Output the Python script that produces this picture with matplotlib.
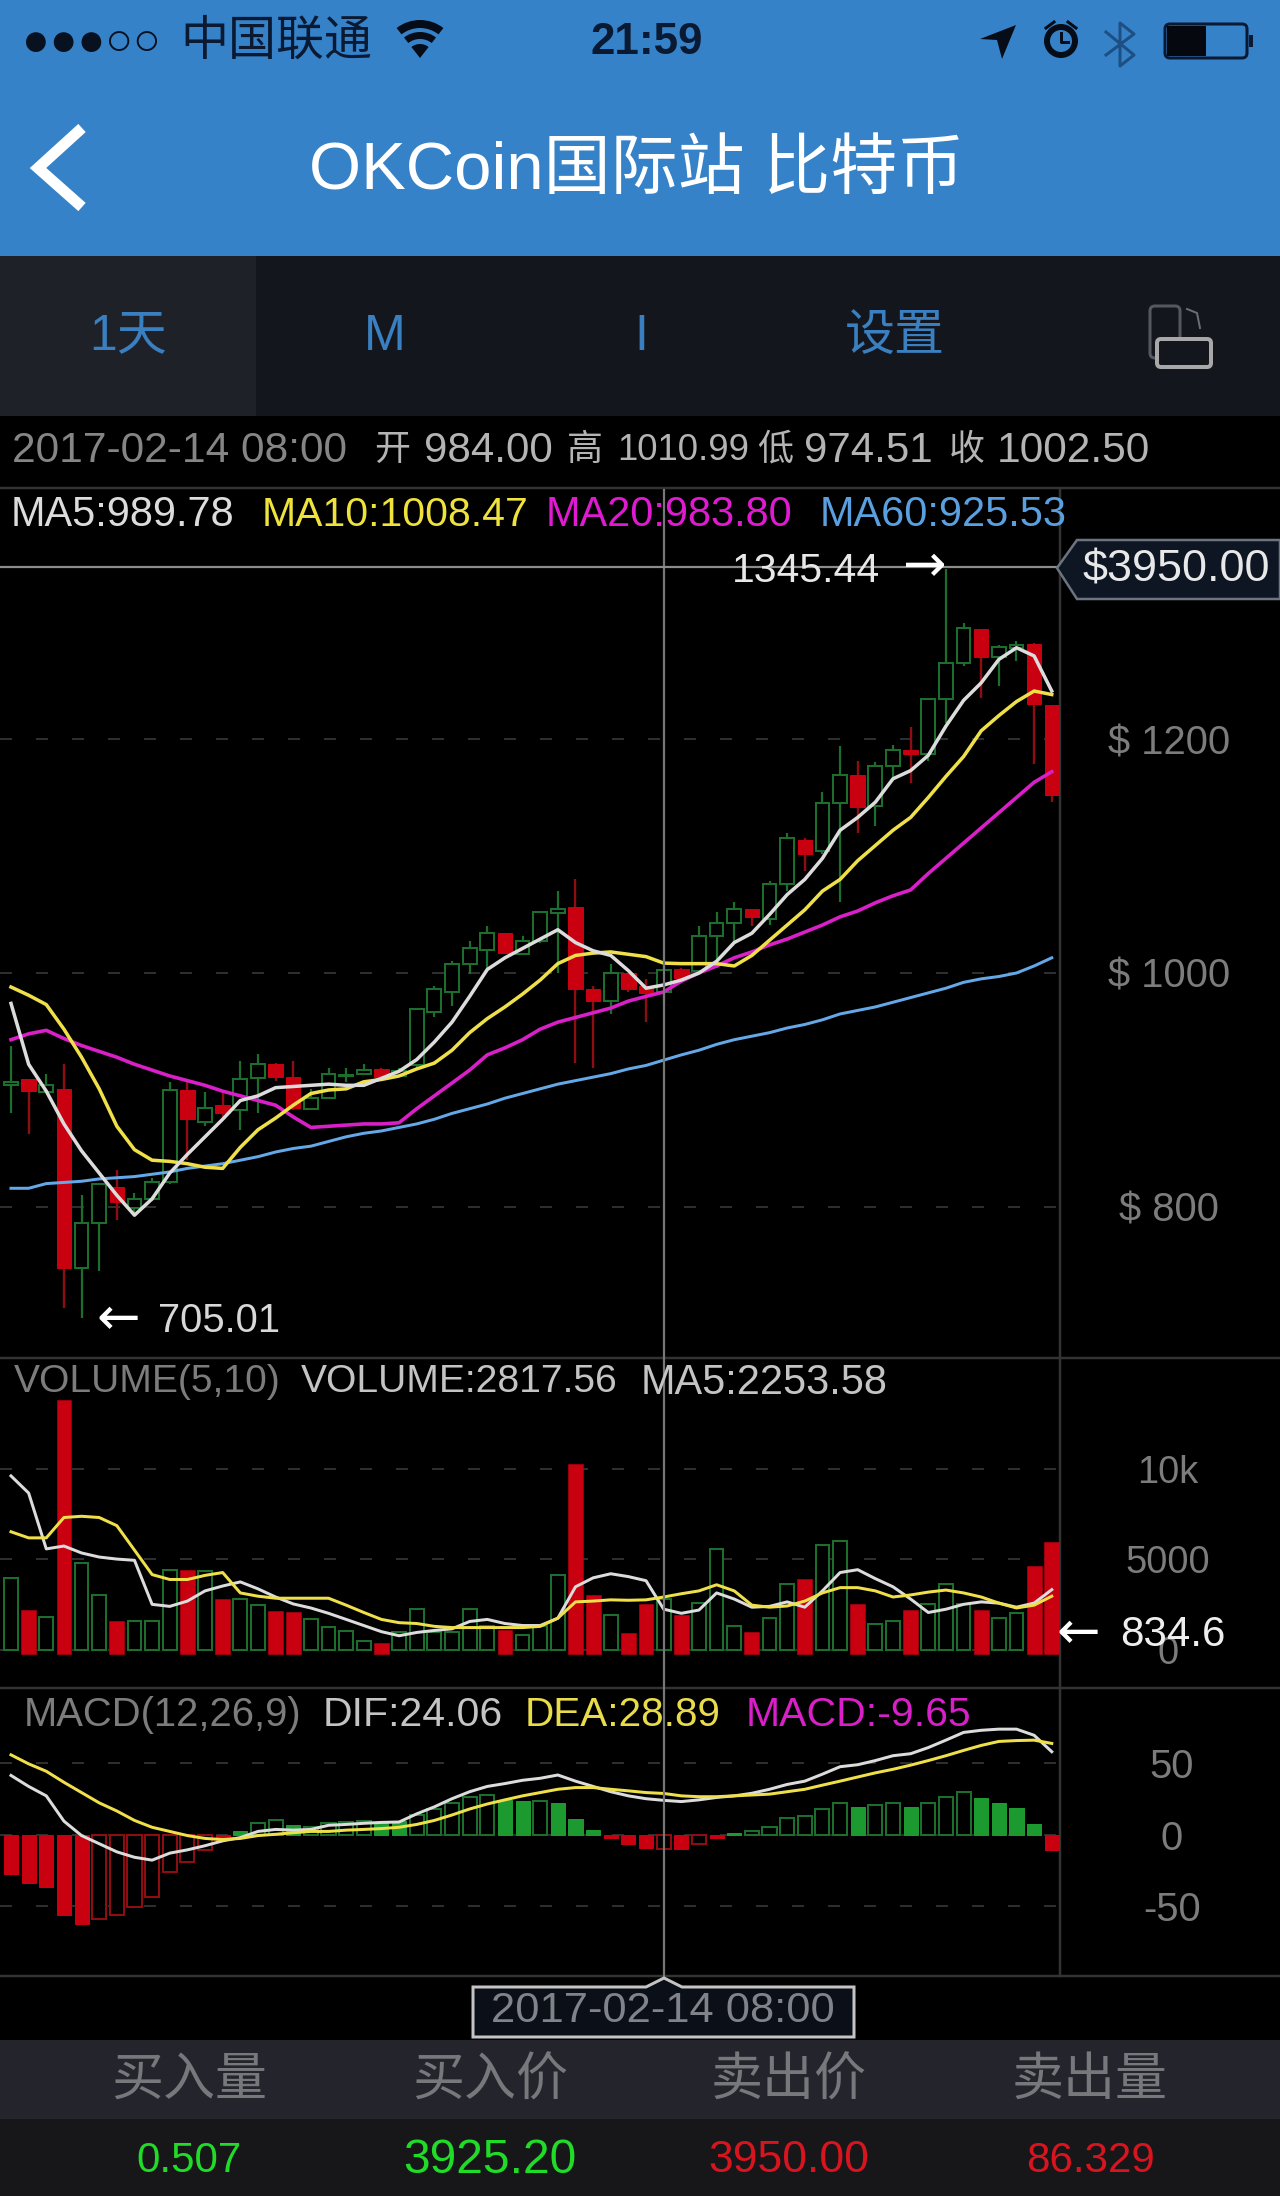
import matplotlib
matplotlib.use("Agg")
import matplotlib.pyplot as plt
from matplotlib.patches import Rectangle, Polygon, Wedge, Circle, FancyBboxPatch
import numpy as np

plt.rcParams['font.family'] = ['Liberation Sans', 'Noto Sans CJK SC', 'DejaVu Sans']

W, H = 1280, 2196

# ---------- data ----------
open_ = [904,909,898,901,748,786,817,799,807,821,900,873,887,883,910,922,911,884,893,912,914,918,912,921,967,984,1008,1020,1034,1016,1027,1051,1056,986,976,1000,989,984,1003,1002,1032,1043,1055,1046,1076,1114,1104,1145,1169,1143,1177,1191,1187,1234,1265,1294,1270,1278,1281,1229]
high  = [938,909,914,922,810,820,832,812,825,907,908,898,899,925,931,923,925,901,919,919,922,919,919,969,989,1010,1027,1040,1034,1032,1053,1070,1080,989,1008,1000,995,1011,1004,1040,1052,1061,1055,1079,1120,1115,1155,1194,1181,1180,1195,1210,1234,1345.44,1299,1294,1280,1284,1282,1229]
low   = [880,862,898,714,705.01,745,789,794,805,820,840,869,877,866,880,908,883,884,893,907,913,910,911,919,962,972,999,1004,1016,1015,1026,1000,923,919,965,984,958,974.51,995,1000,1004,1026,1040,1041,1070,1087,1102,1061,1120,1126,1166,1162,1181,1214,1262,1235,1245,1267,1179,1146]
close = [907,899,904,748,786,820,804,807,821,900,875,885,880,909,922,911,885,893,914,913,917,911,916,969,986,1008,1021,1034,1017,1027,1052,1055,986,976,1000,986,983,1002.5,996,1032,1043,1055,1048,1076,1115,1102,1145,1169,1142,1177,1191,1187,1234,1265,1295,1270,1279,1280,1230,1152]

ma5 = [974,922,899,871,848,829,810,793,807,829,845,860,875,891,895,902,903,904,905,904,904,910,916,926,941,958,980,1003,1013,1021,1029,1037,1026,1019,1015,1002,987,989.78,994,1000,1010,1026,1034,1050,1067,1080,1098,1122,1133,1146,1166,1173,1186,1211,1233,1248,1268,1278,1271,1241]
ma10 = [988,981,973,952,928,901,869,849,840,839,837,834,833,851,866,876,887,897,900,901,907,909,912,918,923,934,949,961,971,982,994,1008,1015,1017,1018,1016,1014,1008.47,1008,1008,1008,1006,1015,1028,1041,1054,1070,1080,1096,1109,1122,1133,1150,1168,1185,1207,1220,1232,1241,1238]
ma20 = [943,948,951,944,938,933,928,922,917,912,908,904,899,895,891,887,877,868,869,870,871,871,872,884,895,906,917,930,936,943,952,958,962,966,970,976,980,983.80,993,1000,1006,1013,1018,1024,1029,1035,1041,1048,1053,1060,1066,1071,1085,1098,1111,1124,1137,1150,1163,1172]
ma60 = [816,816,820,821,822,824,825,826,828,830,833,835,837,840,843,847,850,852,856,860,863,865,868,871,875,880,884,888,893,897,901,905,908,911,914,918,921,925.53,930,934,939,943,946,949,953,956,960,965,968,971,975,979,983,987,992,995,997,1000,1006,1013]

volume = [3982,2205,1800,13792,4792,3037,1620,1575,1620,4388,4388,4342,2812,2812,2475,2138,2092,1688,1282,1058,495,405,1012,2250,1012,1012,2250,1350,1125,855,1350,4162,10238,3038,1958,945,2520,2817.56,1912,2588,5558,1350,968,1755,3668,3892,5805,6030,2520,1462,1620,2182,2542,3668,2520,2182,1755,2025,4658,5962]
vol_ma5 = [9608,8662,5580,5738,5355,5130,5018,4950,2520,2408,2700,3262,3532,3758,3375,2925,2542,2318,2025,1688,1350,1012,788,968,1080,1170,1575,1688,1462,1350,1350,1755,3488,3982,4208,4050,3825,2253.58,2025,2205,3150,2812,2362,2408,2655,2362,3262,4275,4432,3938,3488,2812,2070,2250,2520,2655,2588,2362,2588,3330]
vol_ma10 = [6525,6188,6188,7312,7380,7312,6862,5512,4162,3892,3892,4118,4275,3150,2970,2858,2858,2858,2858,2475,2070,1688,1508,1462,1305,1238,1238,1238,1238,1238,1305,1755,2655,2700,2768,2745,2768,2925,3105,3262,3600,3262,2475,2362,2430,2700,3150,3442,3442,3262,2925,3038,3195,3308,3150,2925,2588,2318,2475,2970]

macd = [-27.2,-33.5,-36.4,-56.4,-62.2,-59.3,-56.4,-50.7,-43.6,-26.4,-19.1,-10.6,-3.4,2.3,8,10,6.6,5.2,8,8.9,9.5,8,9.5,13.8,18,22.3,26.6,28.1,24.4,23.8,23.8,22.3,10.9,3.2,-2,-6.3,-9.2,-9.65,-9.7,-6.3,-2,1.4,2.3,5.7,11.8,12.9,18,22.3,19.4,20.9,22.3,19.4,22.3,26.6,30,26,22.3,18.6,7.4,-10.6]
dif = [41.5,33.8,27.2,9.5,-0.6,-6.3,-12,-15.8,-17.8,-12.9,-10.6,-7.7,-4.3,-2,2.3,3.7,3.2,3.7,6.6,7.2,8,8.6,8.9,14.6,19.5,25.2,30.1,33.8,35.8,38.1,39.5,41.8,37.5,33.8,30.1,27.2,25.2,24.06,23.2,24.4,26.1,27.2,29,31.8,35.2,37.5,42.4,47.6,49,51.9,55.3,56.7,61,66.2,71.6,73.1,73.9,73.9,69.6,58.1]
dea = [55.9,49.6,44.4,36.7,29.5,22.3,16.6,10,5.2,2.3,-0.6,-2.6,-3.4,-2.6,-0.6,0.3,1.4,2.3,2.3,3.2,3.7,4.3,5.2,7.2,10,13.8,18,21.5,24.4,27.2,29.5,31.8,33,33,31.8,30.7,29.5,28.89,27.2,26.6,26.6,27.2,27.8,28.4,30.1,31.8,34.7,37.5,40.4,43.3,45.8,48.7,51.9,55.3,59,62.5,65.3,65.9,66.2,63.9]
macd_solid = [0,1,2,3,4,12,13,16,21,22,28,29,31,32,33,34,35,36,38,40,41,48,51,55,56,57,58,59]

price_ticks = [800, 1000, 1200]
price_tick_labels = ['$ 800', '$ 1000', '$ 1200']
vol_ticks = [0, 5000, 10000]
vol_tick_labels = ['0', '5000', '10k']
macd_ticks = [-50, 0, 50]
macd_tick_labels = ['-50', '0', '50']

# ---------- style ----------
GREEN_LINE = '#1b6e2c'
GREEN_FILL = '#1c9a30'
RED = '#c8000f'
RED_DIM = '#8e0d12'
GRID = '#2e2e2e'
FRAME = '#333333'
C_WHITE = '#dcdcdc'
C_YEL = '#efe04a'
C_MAG = '#d81fc8'
C_BLUE = '#64a8e8'
GREY_TXT = '#7c7c7c'
LT_TXT = '#c4c4c4'

def px(v):
    return v * 0.72   # pixels to points at dpi=100

fig = plt.figure(figsize=(W/100, H/100), dpi=100, facecolor='black')

def panel(top, bottom, ylim, z=2):
    ax = fig.add_axes([0, 1-bottom/H, 1080/W, (bottom-top)/H], zorder=z)
    ax.patch.set_alpha(0)
    ax.set_xlim(-11/17.64, (1080-11)/17.64)
    ax.set_ylim(*ylim)
    for s in ax.spines.values():
        s.set_visible(False)
    ax.set_xticks([])
    ax.set_axisbelow(True)
    ax.grid(axis='y', color=GRID, lw=px(2), linestyle=(0, (6, 12)))
    return ax

def set_ticks(ax, ticks, labels, center_x, size, color=GREY_TXT):
    ax.set_yticks(ticks)
    ax.set_yticklabels(labels)
    ax.yaxis.tick_right()
    ax.tick_params(axis='y', length=0, pad=px(center_x-1080), labelsize=px(size), labelcolor=color)
    for t in ax.yaxis.get_major_ticks():
        t.label2.set_ha('center')

x = np.arange(len(close))

# background layer
bg = fig.add_axes([0, 0, 1, 1], zorder=0)
bg.set_xlim(0, W); bg.set_ylim(H, 0); bg.axis('off')
bg.set_facecolor('black')
bg.add_patch(Rectangle((0, 0), W, 256, fc='#3682c8', ec='none'))
bg.add_patch(Rectangle((0, 256), W, 160, fc='#14161e', ec='none'))
bg.add_patch(Rectangle((0, 256), 256, 160, fc='#1f2129', ec='none'))
bg.add_patch(Rectangle((0, 2040), W, 79, fc='#24252c', ec='none'))
bg.add_patch(Rectangle((0, 2119), W, 77, fc='#17171a', ec='none'))
for yy in (488, 1358, 1688, 1976):
    bg.plot([0, W], [yy, yy], color=FRAME, lw=px(2.5))
bg.plot([1060, 1060], [490, 1976], color=FRAME, lw=px(2.5))

# price panel
axp = panel(490, 1358, (1000-385/1.17, 1000+483/1.17))
set_ticks(axp, price_ticks, price_tick_labels, 1169, 40)
o, h, l, c = map(np.array, (open_, high, low, close))
up = c >= o
axp.vlines(x[up], l[up], h[up], color=GREEN_LINE, lw=px(2.2), zorder=2)
axp.vlines(x[~up], l[~up], h[~up], color=RED_DIM, lw=px(2.4), zorder=2)
axp.bar(x[up], (c-o)[up], bottom=o[up], width=0.78, fc='black', ec=GREEN_LINE, lw=px(2), zorder=3)
axp.bar(x[~up], (o-c)[~up], bottom=c[~up], width=0.82, fc=RED, ec=RED, lw=px(1), zorder=3)
axp.plot(x, ma60, color=C_BLUE, lw=px(3), zorder=4)
axp.plot(x, ma20, color=C_MAG, lw=px(3.6), zorder=5)
axp.plot(x, ma10, color=C_YEL, lw=px(3.5), zorder=6)
axp.plot(x, ma5, color=C_WHITE, lw=px(3.5), zorder=7)

# volume panel
axv = panel(1358, 1688, (-2097, 16115))
set_ticks(axv, vol_ticks, vol_tick_labels, 1168, 38)
v = np.array(volume)
axv.bar(x[up], v[up], width=0.78, fc='black', ec=GREEN_LINE, lw=px(2), zorder=3)
axv.bar(x[~up], v[~up]+220, bottom=-220, width=0.84, fc=RED, ec=RED, lw=px(0.5), zorder=3)
axv.plot(x, vol_ma5, color=C_WHITE, lw=px(3), zorder=5)
axv.plot(x, vol_ma10, color=C_YEL, lw=px(3), zorder=6)

# MACD panel
axm = panel(1688, 1976, (-98.9, 102.7))
set_ticks(axm, macd_ticks, macd_tick_labels, 1172, 40)
m = np.array(macd)
solid = np.isin(x, macd_solid)
pos = m >= 0
axm.bar(x[pos & solid], m[pos & solid], width=0.8, fc=GREEN_FILL, ec=GREEN_FILL, lw=px(1), zorder=3)
axm.bar(x[pos & ~solid], m[pos & ~solid], width=0.8, fc='black', ec=GREEN_LINE, lw=px(2), zorder=3)
axm.bar(x[~pos & solid], m[~pos & solid], width=0.8, fc=RED, ec=RED, lw=px(1), zorder=3)
axm.bar(x[~pos & ~solid], m[~pos & ~solid], width=0.8, fc='black', ec=RED_DIM, lw=px(2), zorder=3)
axm.plot(x, dif, color=C_WHITE, lw=px(3), zorder=5)
axm.plot(x, dea, color=C_YEL, lw=px(3), zorder=6)

# overlay
ov = fig.add_axes([0, 0, 1, 1], zorder=5)
ov.set_xlim(0, W); ov.set_ylim(H, 0); ov.axis('off'); ov.patch.set_alpha(0)
ov.set_aspect('auto')

def T(xx, yy, s, size, color, ha='left', **kw):
    ov.text(xx, yy + 4.5, s, fontsize=px(size), color=color, ha=ha, va='center', **kw)

def ARROW(xx, yy, s):
    ov.text(xx, yy, s, fontsize=px(52), color='white', ha='center', va='center', family='DejaVu Sans')

# crosshair & last-price line
ov.plot([664, 664], [490, 1976], color='#777777', lw=px(2.2), zorder=1)
ov.plot([0, 1060], [567, 567], color='#8c8c8c', lw=px(2.2), zorder=1)

# status bar
DARK = '#0b1a33'
T(22, 38, '●●●○○', 46, '#07111f')
T(180, 38, '中国联通', 48, DARK)
T(647, 38, '21:59', 44, DARK, ha='center', fontweight='bold')
for r, wd in ((38, 8), (26, 7), (14, 14)):
    ov.add_patch(Wedge((420, 58), r, 232, 308, width=wd, fc='#060d18', ec='none'))
ov.add_patch(Polygon([(980, 39), (1016, 25), (1002, 59), (997, 40)], fc='#060d18', ec='none'))
ov.add_patch(Circle((1061, 41), 17, fc='#060d18', ec='none'))
ov.add_patch(Circle((1061, 41), 11, fc='#3682c8', ec='none'))
ov.plot([1061, 1061, 1068], [33, 42, 42], color='#060d18', lw=px(3))
ov.plot([1046, 1054], [28, 22], color='#060d18', lw=px(3))
ov.plot([1068, 1076], [22, 28], color='#060d18', lw=px(3))
ov.plot([1106, 1134, 1120, 1120, 1134, 1106], [32, 55, 66, 23, 34, 55], color='#1d4f82', lw=px(3))
ov.add_patch(FancyBboxPatch((1165, 24), 82, 34, boxstyle='round,pad=0,rounding_size=5', fc='none', ec='#0b1a33', lw=px(3)))
ov.add_patch(Rectangle((1167, 26), 39, 30, fc='#05090f', ec='none'))
ov.add_patch(Rectangle((1249, 35), 4, 12, fc='#0b1a33', ec='none'))

# header
ov.plot([82, 38, 82], [128, 168, 207], color='white', lw=px(11), solid_joinstyle='miter', solid_capstyle='butt')
T(637, 167, 'OKCoin国际站 比特币', 67, 'white', ha='center')

# tabs
TAB = '#3a7fc0'
T(128, 332, '1天', 50, TAB, ha='center')
T(385, 332, 'M', 50, TAB, ha='center')
T(641, 332, 'I', 50, TAB, ha='center')
T(895, 332, '设置', 50, TAB, ha='center')
ov.add_patch(FancyBboxPatch((1150, 306), 30, 52, boxstyle='round,pad=0,rounding_size=5', fc='none', ec='#55585f', lw=px(3)))
ov.add_patch(FancyBboxPatch((1157, 339), 54, 28, boxstyle='round,pad=0,rounding_size=4', fc='#14161e', ec='#a8a8a8', lw=px(4)))
ov.plot([1187, 1197, 1200], [309, 313, 328], color='#6a6d74', lw=px(2))

# info row
T(12, 446, '2017-02-14 08:00', 42.5, '#858585')
info_items = [(374, '开', 36), (424, '984.00', 42), (567, '高', 36), (617, '1010.99', 36.5),
              (757, '低', 36), (804, '974.51', 42), (949, '收', 36), (997, '1002.50', 42.5)]
for xx, s, sz in info_items:
    T(xx, 446, s, sz, '#b4b4b4')

# MA row
T(11, 510, 'MA5:989.78', 41.5, C_WHITE)
T(262, 510, 'MA10:1008.47', 41, '#efe23c')
T(546, 510, 'MA20:983.80', 41.5, '#e01ad0')
T(820, 510, 'MA60:925.53', 41.5, '#5aa0e0')

# price tag
ov.add_patch(Polygon([(1280, 540), (1077, 540), (1057, 568), (1077, 599), (1280, 599)], fc='#0e1624', ec='#6c7480', lw=px(2.5)))
T(1176, 566, '$3950.00', 45, '#e8e8e8', ha='center')

# high/low annotations
T(732, 566, '1345.44', 41, '#e8e8e8')
ARROW(924, 567, '→')
ARROW(118, 1320, '←')
T(158, 1317, '705.01', 40, '#d8d8d8')

# volume row
T(14, 1378, 'VOLUME(5,10)', 39, GREY_TXT)
T(301, 1378, 'VOLUME:2817.56', 39, LT_TXT)
T(641, 1378, 'MA5:2253.58', 41.5, LT_TXT)
ARROW(1078, 1634, '←')
T(1120, 1630, '834.6', 42, '#eeeeee')

# MACD row
T(24, 1710, 'MACD(12,26,9)', 40, GREY_TXT)
T(323, 1710, 'DIF:24.06', 41, LT_TXT)
T(525, 1710, 'DEA:28.89', 40.5, '#e8dc4a')
T(746, 1710, 'MACD:-9.65', 41, '#d81fc8')

# date tag
ov.add_patch(Polygon([(473, 1987), (646, 1987), (664, 1978), (682, 1987), (854, 1987), (854, 2037), (473, 2037)],
                     fc='#0b1018', ec='#c4c4c4', lw=px(3)))
T(663, 2007, '2017-02-14 08:00', 43.5, '#80848a', ha='center')

# bottom table
heads = ['买入量', '买入价', '卖出价', '卖出量']
vals = ['0.507', '3925.20', '3950.00', '86.329']
cols = ['#20dc28', '#20dc28', '#d8141e', '#d8141e']
sizes = [42, 48, 44.5, 42]
cxs = [189, 490, 789, 1090]
for cx, hd, vl, cl, sz in zip(cxs, heads, vals, cols, sizes):
    T(cx, 2077, hd, 52, '#77787c', ha='center')
    T(cx, 2156, vl, sz, cl, ha='center')

fig.savefig('out.png', dpi=100, facecolor='black')
